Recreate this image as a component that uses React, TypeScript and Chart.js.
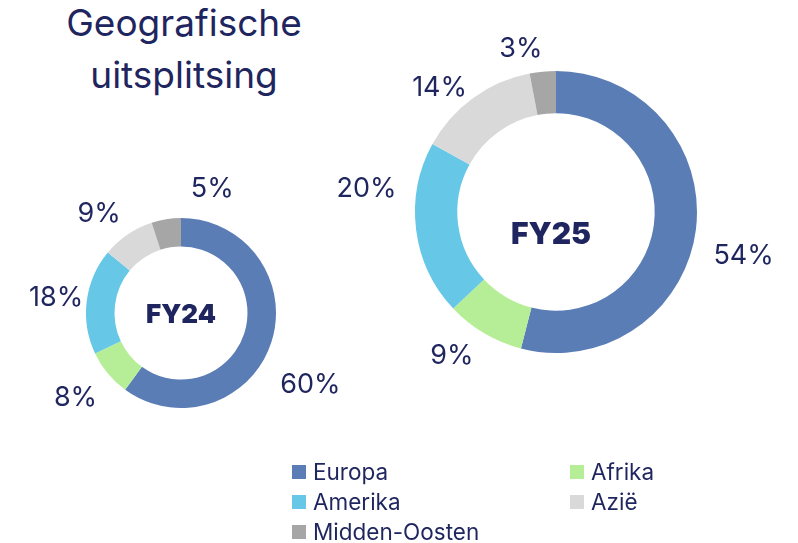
import React, { useEffect, useRef } from "react";
import { Chart, registerables } from "chart.js";

Chart.register(...registerables);

const categories = ["Europa", "Afrika", "Amerika", "Azië", "Midden-Oosten"];
const fy24Values = [60, 8, 18, 9, 5];
const fy25Values = [54, 9, 20, 14, 3];
const sliceColors = ["#5B7DB5", "#B5EE96", "#66C8E6", "#D9D9D9", "#A6A6A6"];
const legendOrder = [0, 1, 2, 3, 4];

const NAVY = "#1F255E";
const FONT = "Inter, 'Noto Sans', sans-serif";

// label placement tweaks (styling only, in px)
const fy24LabelNudge = [[3, 31], [-3, 0], [7, 2], [-7, 11], [52, 7]];
const fy25LabelNudge = [[8, 21], [-12, -12], [-10, -46], [-10, 22], [-18, 17]];

const labelPlugin = {
  id: "donutLabels",
  afterDatasetsDraw(chart: any, _args: any, opts: any) {
    const ctx = chart.ctx;
    const meta = chart.getDatasetMeta(0);
    const values = chart.data.datasets[0].data;
    ctx.save();
    ctx.fillStyle = NAVY;
    ctx.textAlign = "center";
    ctx.textBaseline = "middle";
    ctx.font = `400 ${opts.labelSize}px ${FONT}`;
    let cx = 0, cy = 0;
    meta.data.forEach((arc: any, i: number) => {
      const p = arc.getProps(["x", "y", "startAngle", "endAngle", "outerRadius"], true);
      cx = p.x; cy = p.y;
      const mid = (p.startAngle + p.endAngle) / 2;
      const d = p.outerRadius + opts.offset;
      const n = opts.nudge[i] || [0, 0];
      ctx.fillText(`${values[i]}%`, p.x + Math.cos(mid) * d + n[0], p.y + Math.sin(mid) * d + n[1]);
    });
    ctx.font = `900 ${opts.centerSize}px ${FONT}`;
    ctx.fillText(opts.centerText, cx + opts.centerNudge[0], cy + opts.centerNudge[1]);
    ctx.restore();
  },
};

function Donut(props: any) {
  const ref = useRef<HTMLCanvasElement | null>(null);
  useEffect(() => {
    if (!ref.current) return;
    const chart = new Chart(ref.current, {
      type: "doughnut",
      data: {
        labels: categories,
        datasets: [{ data: props.values, backgroundColor: sliceColors, borderWidth: 0 }],
      },
      options: {
        responsive: false,
        animation: false,
        cutout: "70%",
        layout: { padding: { left: props.padX, right: props.padX, top: props.padY, bottom: props.padY } },
        plugins: {
          legend: { display: false },
          tooltip: { enabled: false },
          donutLabels: {
            labelSize: props.labelSize,
            centerSize: props.centerSize,
            centerText: props.center,
            offset: props.offset,
            nudge: props.nudge,
            centerNudge: props.centerNudge,
          },
        } as any,
      },
      plugins: [labelPlugin],
    });
    return () => chart.destroy();
  }, []);
  return (
    <canvas
      ref={ref}
      width={props.w}
      height={props.h}
      style={{ position: "absolute", left: props.left, top: props.top, width: props.w, height: props.h }}
    />
  );
}

export default function App() {
  const legendPos = [
    { x: 292, y: 462 },
    { x: 570, y: 462 },
    { x: 292, y: 492 },
    { x: 570, y: 492 },
    { x: 292, y: 522 },
  ];
  return (
    <div style={{ position: "fixed", left: 0, top: 0, width: 798, height: 543, background: "#fff", overflow: "hidden", fontFamily: FONT, color: NAVY }}>
      <div style={{ position: "absolute", left: 0, width: 368, top: -3, textAlign: "center", fontSize: 37, lineHeight: "52px", whiteSpace: "pre" }}>
        {"Geografische\nuitsplitsing"}
      </div>
      <Donut values={fy24Values} center="FY24" left={0} top={163} w={362} h={300} padX={86} padY={55} labelSize={27} centerSize={26} offset={38} nudge={fy24LabelNudge} centerNudge={[0, 2]} />
      <Donut values={fy25Values} center="FY25" left={316} top={12} w={480} h={400} padX={99} padY={59} labelSize={27} centerSize={30} offset={40} nudge={fy25LabelNudge} centerNudge={[-5, 23]} />
      {legendOrder.map((idx, k) => (
        <div key={idx} style={{ position: "absolute", left: legendPos[k].x, top: legendPos[k].y, height: 20, display: "flex", alignItems: "center" }}>
          <div style={{ width: 14, height: 14, background: sliceColors[idx], marginRight: 7 }} />
          <span style={{ fontSize: 22.5, lineHeight: "20px" }}>{categories[idx]}</span>
        </div>
      ))}
    </div>
  );
}
